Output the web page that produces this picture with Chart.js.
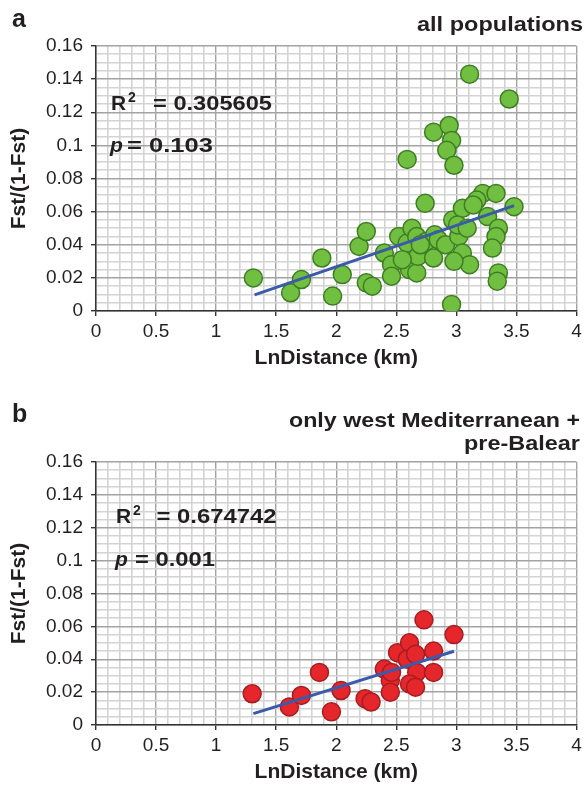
<!DOCTYPE html>
<html>
<head>
<meta charset="utf-8">
<script src="https://cdn.jsdelivr.net/npm/chart.js@4.4.0/dist/chart.umd.min.js"></script>
<style>
body{margin:0;background:#fff;}
canvas{display:block;}
</style>
</head>
<body>
<canvas id="chartA" width="587" height="390"></canvas>
<canvas id="chartB" width="587" height="395"></canvas>
<script>
// panel a: all populations
const ALL_X = [1.31, 1.62, 1.71, 1.88, 1.97, 2.05, 2.19, 2.25, 2.25, 2.30,
               2.40, 2.46, 2.46, 2.52, 2.59, 2.63, 2.59, 2.61, 2.67, 2.68,
               2.67, 2.74, 2.75, 2.82, 2.81, 2.81, 2.85, 2.91, 2.94, 2.96,
               2.92, 2.98, 2.97, 3.05, 3.02, 3.05, 3.11, 2.98, 2.96, 3.11,
               3.22, 3.33, 3.26, 3.35, 3.33, 3.30, 3.35, 3.34, 3.44, 3.48,
               3.01, 3.17, 3.14, 3.09, 2.70, 2.55];
const ALL_Y = [0.020, 0.011, 0.019, 0.032, 0.009, 0.022, 0.039, 0.048, 0.017, 0.015,
               0.035, 0.028, 0.021, 0.045, 0.041, 0.050, 0.0915, 0.025, 0.023, 0.033,
               0.045, 0.065, 0.042, 0.046, 0.032, 0.108, 0.043, 0.040, 0.112, 0.103,
               0.097, 0.088, 0.055, 0.062, 0.045, 0.035, 0.028, 0.030, 0.004, 0.143,
               0.071, 0.071, 0.057, 0.050, 0.045, 0.038, 0.023, 0.018, 0.128, 0.063,
               0.052, 0.067, 0.064, 0.050, 0.040, 0.031];
const TREND_ALL_X = [1.32, 3.48];
const TREND_ALL_Y = [0.0097, 0.0636];

// panel b: only west Mediterranean + pre-Balear
const WEST_X = [1.30, 1.61, 1.71, 1.86, 1.96, 2.04, 2.24, 2.29, 2.40, 2.45,
                2.45, 2.51, 2.61, 2.59, 2.66, 2.67, 2.61, 2.66, 2.73, 2.81,
                2.81, 2.98, 2.46];
const WEST_Y = [0.019, 0.011, 0.018, 0.032, 0.008, 0.021, 0.016, 0.014, 0.034, 0.027,
                0.020, 0.044, 0.050, 0.040, 0.043, 0.032, 0.025, 0.023, 0.064, 0.045,
                0.032, 0.055, 0.032];
const TREND_WEST_X = [1.31, 2.98];
const TREND_WEST_Y = [0.0069, 0.0449];

const X_MAX = 4, X_MINOR = 0.1, X_MAJOR = 0.5;
const Y_MAX = 0.16, Y_MINOR = 0.005, Y_MAJOR = 0.02;

const FAMILY = "'Liberation Sans', Arial, sans-serif";
const INK = '#231f20';
Chart.defaults.font.family = FAMILY;

function pairs(xs, ys) {
    return xs.map((x, i) => ({x: x, y: ys[i]}));
}

function onStep(v, step) {
    const r = v / step;
    return Math.abs(r - Math.round(r)) < 1e-6;
}

function drawNote(ctx, n) {
    ctx.save();
    ctx.font = n.font;
    ctx.fillStyle = INK;
    ctx.textBaseline = 'alphabetic';
    ctx.textAlign = 'left';
    const w = ctx.measureText(n.text).width;
    const sx = n.w ? n.w / w : 1;
    ctx.translate(n.x, n.y);
    ctx.scale(sx, 1);
    ctx.fillText(n.text, n.right ? -w : 0, 0);
    ctx.restore();
}

function notesPlugin(notes) {
    return {
        id: 'notes',
        afterDraw(chart) {
            notes.forEach(n => drawNote(chart.ctx, n));
        }
    };
}

function makeChart(id, points, trend, fill, edge, notes, lay) {
    return new Chart(document.getElementById(id), {
        type: 'scatter',
        data: {
            datasets: [
                {
                    type: 'line',
                    data: trend,
                    borderColor: '#3b5aa9',
                    borderWidth: 3,
                    pointRadius: 0,
                    fill: false,
                    order: 0
                },
                {
                    data: points,
                    backgroundColor: fill,
                    borderColor: edge,
                    borderWidth: 1.5,
                    pointRadius: 9,
                    order: 1
                }
            ]
        },
        options: {
            responsive: false,
            animation: false,
            events: [],
            layout: {padding: {top: lay.top, right: 5, left: 0, bottom: 0}},
            plugins: {legend: {display: false}, tooltip: {enabled: false}},
            scales: {
                x: {
                    type: 'linear',
                    min: 0,
                    max: X_MAX,
                    afterFit: s => { s.height = lay.xHeight; },
                    ticks: {
                        stepSize: X_MINOR,
                        autoSkip: false,
                        maxRotation: 0,
                        padding: 4,
                        color: INK,
                        font: {size: 19},
                        callback: v => onStep(v, X_MAJOR) ? String(+v.toFixed(1)) : ''
                    },
                    grid: {
                        color: c => onStep(c.tick.value, X_MAJOR) ? '#a3a3a3' : '#d3d3d3',
                        lineWidth: c => onStep(c.tick.value, X_MAJOR) ? 1.4 : 1.6,
                        tickLength: 5,
                        tickColor: c => onStep(c.tick.value, X_MAJOR) ? '#333' : 'rgba(0,0,0,0)'
                    },
                    border: {color: '#333', width: 1.5},
                    title: {
                        display: true,
                        text: 'LnDistance (km)',
                        color: INK,
                        font: {size: 21, weight: 'bold'},
                        padding: {top: 0, bottom: lay.xTitle}
                    }
                },
                y: {
                    type: 'linear',
                    min: 0,
                    max: Y_MAX,
                    afterFit: s => { s.width = 96; },
                    ticks: {
                        stepSize: Y_MINOR,
                        autoSkip: false,
                        padding: 8,
                        color: INK,
                        font: {size: 19},
                        callback: v => onStep(v, Y_MAJOR) ? String(+v.toFixed(2)) : ''
                    },
                    grid: {
                        color: c => onStep(c.tick.value, Y_MAJOR) ? '#a3a3a3' : '#d3d3d3',
                        lineWidth: c => onStep(c.tick.value, Y_MAJOR) ? 1.4 : 1.6,
                        tickLength: 5,
                        tickColor: c => onStep(c.tick.value, Y_MAJOR) ? '#333' : 'rgba(0,0,0,0)'
                    },
                    border: {color: '#333', width: 1.5},
                    title: {
                        display: true,
                        text: 'Fst/(1-Fst)',
                        color: INK,
                        font: {size: 21, weight: 'bold'},
                        padding: {top: 7, bottom: 0}
                    }
                }
            }
        },
        plugins: [notesPlugin(notes)]
    });
}

const B21 = "bold 21px " + FAMILY;
const B25 = "bold 25px " + FAMILY;
const SUP = "bold 14px " + FAMILY;
const IT21 = "italic bold 21px " + FAMILY;

makeChart('chartA', pairs(ALL_X, ALL_Y), pairs(TREND_ALL_X, TREND_ALL_Y),
    '#70bf41', '#3f7d23',
    [
        {text: 'a', x: 12, y: 27, font: B25},
        {text: 'all populations', x: 583, y: 31, font: B21, w: 166, right: true},
        {text: 'R', x: 111, y: 109.5, font: B21},
        {text: '2', x: 128, y: 102, font: SUP},
        {text: '= 0.305605', x: 153, y: 109.5, font: B21, w: 119},
        {text: 'p', x: 110, y: 151.5, font: IT21},
        {text: '= 0.103', x: 127, y: 151.5, font: B21, w: 86}
    ],
    {top: 46, xHeight: 79, xTitle: 19});

makeChart('chartB', pairs(WEST_X, WEST_Y), pairs(TREND_WEST_X, TREND_WEST_Y),
    '#e5262b', '#a51d22',
    [
        {text: 'b', x: 12, y: 32, font: B25},
        {text: 'only west Mediterranean +', x: 580, y: 36.5, font: B21, w: 291, right: true},
        {text: 'pre-Balear', x: 580, y: 60, font: B21, w: 116, right: true},
        {text: 'R', x: 116, y: 132.5, font: B21},
        {text: '2', x: 133, y: 125, font: SUP},
        {text: '= 0.674742', x: 156.5, y: 132.5, font: B21, w: 120},
        {text: 'p', x: 115, y: 176, font: IT21},
        {text: '= 0.001', x: 135, y: 176, font: B21, w: 80}
    ],
    {top: 72, xHeight: 60, xTitle: 0});
</script>
</body>
</html>
